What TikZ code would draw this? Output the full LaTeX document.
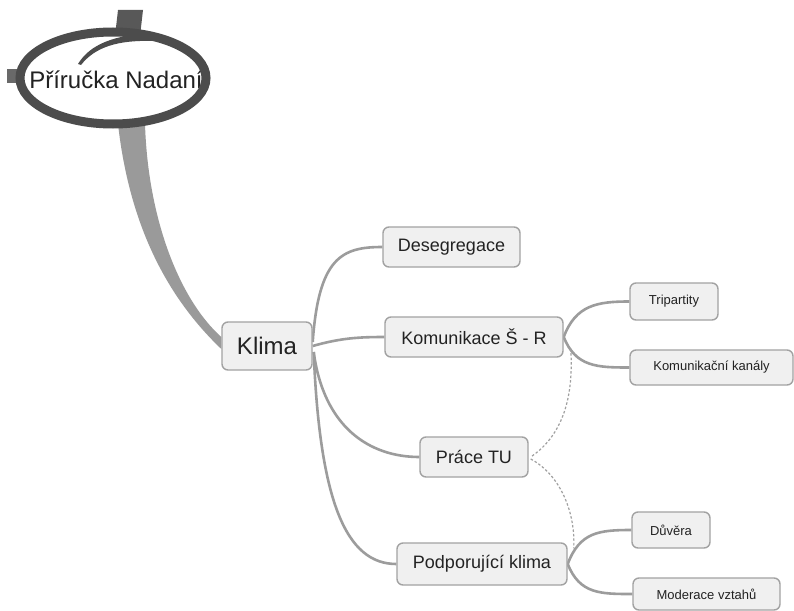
\documentclass[tikz,border=0pt]{standalone}
\usepackage{fontspec}
\setmainfont{Liberation Sans}
\usetikzlibrary{shapes.geometric,calc,backgrounds}
\definecolor{linegray}{HTML}{9C9C9C}
\definecolor{dashgray}{HTML}{A0A0A0}
\definecolor{boxborder}{HTML}{A2A2A2}
\definecolor{boxfill}{HTML}{F0F0F0}
\definecolor{textcol}{HTML}{222222}
\definecolor{rootgray}{HTML}{4C4C4C}
\definecolor{bargray}{HTML}{585858}
\definecolor{branchgray}{HTML}{9A9A9A}
\newcommand{\fsz}[1]{\fontsize{#1}{#1}\selectfont}
\begin{document}
\begin{tikzpicture}[x=1pt,y=-1pt,
  mapbox/.style={draw=boxborder, fill=boxfill, line width=1.4pt, rounded corners=6pt, inner sep=0pt, text=textcol},
  conn/.style={draw=linegray, line width=2.6pt},
  dashconn/.style={draw=dashgray, line width=1.2pt, dash pattern=on 2.5pt off 2pt},
  rootline/.style={draw=rootgray, line width=9pt}
]
\useasboundingbox (0,0) rectangle (794,610);

% nodes
\node[mapbox, minimum width=90pt, minimum height=48pt, font=\fsz{24}] (klima) at (267,346) {Klima};
\node[mapbox, minimum width=137pt, minimum height=40pt, font=\fsz{18}] (des) at (451.5,247) {Desegregace};
\node[mapbox, minimum width=178pt, minimum height=40pt, font=\fsz{18}] (kom) at (474,337) {Komunikace Š - R};
\node[mapbox, minimum width=108pt, minimum height=40pt, font=\fsz{18}] (prace) at (474,457) {Práce TU};
\node[mapbox, minimum width=170pt, minimum height=42pt, font=\fsz{18}] (podp) at (482,564) {Podporující klima};
\node[mapbox, minimum width=88pt, minimum height=37pt, font=\fsz{13}] (tri) at (674,301.5) {Tripartity};
\node[mapbox, minimum width=163pt, minimum height=35pt, font=\fsz{13}] (kan) at (711.5,367.5) {Komunikační kanály};
\node[mapbox, minimum width=78pt, minimum height=36pt, font=\fsz{13}] (duv) at (671,530) {Důvěra};
\node[mapbox, minimum width=147pt, minimum height=32pt, font=\fsz{13}] (mod) at (706.5,594) {Moderace vztahů};

% root
\coordinate (rootc) at (113,78);
\coordinate (bartop) at (130,10);
\begin{scope}[on background layer]
  \fill[white] (0,0) rectangle (794,610);
  % thick branch root -> Klima
  \fill[branchgray] ($(rootc)+(5,46)$) .. controls (130,230) and (170,300) .. ($(klima.west)+(0,3)$)
     -- ($(klima.west)+(0,-9)$) .. controls (180,300) and (148,220) .. ($(rootc)+(32,46)$) -- cycle;
  % top bar and left stub
  \fill[bargray] ($(bartop)+(-12,0)$) -- ($(bartop)+(13,0)$) -- ($(bartop)+(10,26)$) -- ($(bartop)+(-15,26)$) -- cycle;
  \fill[bargray!90] (7,69) rectangle (22,83);
  % connectors
  \draw[conn] ($(klima.east)+(0,-4)$) .. controls +(6,-85) and +(-40,0) .. (des.west);
  \draw[conn] (klima.east) .. controls +(28,-8) and +(-25,0) .. (kom.west);
  \draw[conn] ($(klima.east)+(1,6)$) .. controls +(10,75) and +(-50,0) .. (prace.west);
  \draw[conn] ($(klima.east)+(1,6)$) .. controls +(6,150) and +(-50,0) .. (podp.west);
  \draw[conn] (kom.east) .. controls +(12,-32) and +(-32,0) .. (tri.west);
  \draw[conn] (kom.east) .. controls +(12,30) and +(-32,0) .. (kan.west);
  \draw[conn] (podp.east) .. controls +(12,-32) and +(-32,0) .. (duv.west);
  \draw[conn] (podp.east) .. controls +(12,30) and +(-32,0) .. (mod.west);
  \draw[dashconn] ($(kom.south east)+(7,-9)$) .. controls +(4,60) and +(25,-17) .. ($(prace.east)+(2,0)$);
  \draw[dashconn] ($(prace.east)+(2,2)$) .. controls +(30,16) and +(2,-35) .. ($(podp.north east)+(6,6)$);
\end{scope}

\node[ellipse, fill=white, minimum width=186pt, minimum height=92pt, inner sep=0pt] (root) at (rootc) {};
\node[font=\fsz{24}, text=textcol, inner sep=0pt] (roottext) at (116,80) {Příručka Nadaní};
\draw[rootline] (root.center) ellipse [x radius=93, y radius=46];
% inner swirl of the hand-drawn ellipse
\fill[rootgray] (78,64) .. controls (90,44) and (115,35) .. (152,33)
   -- (152,41) .. controls (118,40) and (95,47) .. (81,65) -- cycle;
\end{tikzpicture}
\end{document}
